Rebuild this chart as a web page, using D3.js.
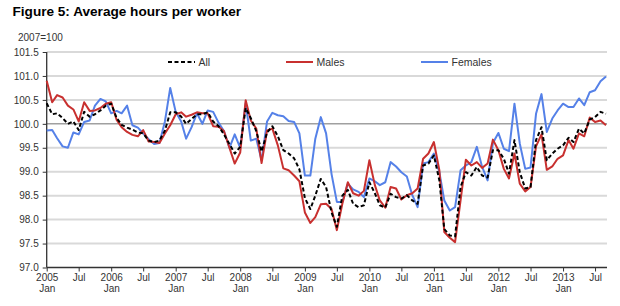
<!DOCTYPE html>
<html>
<head>
<meta charset="utf-8">
<script src="https://cdn.jsdelivr.net/npm/d3@7"></script>
<style>
  body { margin: 0; background: #fff; }
  svg { display: block; font-family: "Liberation Sans", Arial, sans-serif; }
</style>
</head>
<body>
<svg width="620" height="306"></svg>
<script>
// monthly index, Jan 2005 = 100 base 2007
var months = d3.timeMonth.range(new Date(2005, 0, 1), new Date(2013, 9, 1));

var allWorkers = [
  100.43,100.2,100.22,100.12,100.0,100.05,99.87,100.25,100.15,100.2,100.28,100.38,
  100.42,100.12,99.98,99.92,99.88,99.82,99.8,99.65,99.62,99.65,99.86,100.24,
  100.24,100.15,100.0,100.1,100.2,100.2,100.24,100.05,99.95,99.78,99.58,99.38,
  99.52,100.33,100.12,99.85,99.42,99.82,99.95,99.74,99.45,99.38,99.28,99.05,
  98.45,98.22,98.5,98.85,98.68,98.15,97.85,98.5,98.62,98.33,98.26,98.3,
  98.78,98.55,98.3,98.25,98.54,98.47,98.44,98.51,98.4,98.33,99.13,99.17,
  99.34,98.82,97.8,97.67,97.65,98.68,98.99,98.92,99.1,98.92,98.88,99.45,
  99.45,99.27,98.96,99.66,98.99,98.65,98.68,99.66,99.93,99.24,99.38,99.48,
  99.55,99.71,99.62,99.9,99.8,100.09,100.14,100.25,100.21
];
var males = [
  100.9,100.45,100.6,100.55,100.38,100.3,100.05,100.45,100.27,100.28,100.33,100.42,
  100.45,100.08,99.93,99.83,99.77,99.74,99.87,99.63,99.62,99.6,99.8,99.97,
  100.2,100.24,100.15,100.19,100.24,100.22,100.22,99.95,99.94,99.85,99.5,99.17,
  99.4,100.49,100.07,99.9,99.18,99.86,99.9,99.55,99.07,99.03,98.92,98.8,
  98.15,97.93,98.05,98.32,98.33,98.22,97.78,98.33,98.78,98.55,98.5,98.6,
  99.24,98.72,98.4,98.25,98.68,98.65,98.42,98.51,98.55,98.65,99.27,99.38,
  99.62,99.03,97.74,97.62,97.53,98.4,99.25,99.13,99.2,99.08,99.17,99.67,
  99.45,99.06,98.86,99.38,98.75,98.59,98.68,99.53,99.78,99.04,99.11,99.27,
  99.34,99.66,99.48,99.8,99.74,100.13,100.04,100.07,99.97
];
var females = [
  99.86,99.87,99.7,99.53,99.5,99.82,99.78,100.04,100.07,100.38,100.52,100.47,
  100.22,100.27,100.22,100.38,99.97,99.92,99.8,99.68,99.58,99.6,100.05,100.75,
  100.25,100.05,99.69,99.93,100.22,100.0,100.28,100.25,100.02,99.85,99.5,99.78,
  99.5,100.43,99.65,99.69,99.24,100.05,100.23,100.18,100.16,100.06,100.04,99.8,
  98.92,98.92,99.69,100.14,99.8,98.95,98.37,98.37,98.75,98.63,98.58,98.47,
  98.86,98.8,98.72,98.78,99.2,99.11,98.99,98.9,98.51,98.26,99.17,99.2,
  99.38,98.99,98.4,98.19,98.26,99.03,99.13,99.2,99.52,99.1,98.82,99.6,
  99.81,99.48,99.43,100.42,99.59,99.06,99.09,100.21,100.62,99.83,100.11,100.28,
  100.42,100.35,100.35,100.53,100.39,100.66,100.7,100.89,100.99
];
var yTicks = [97.0, 97.5, 98.0, 98.5, 99.0, 99.5, 100.0, 100.5, 101.0, 101.5];

var series = [
  {name: "Females", values: females, color: "#5581e8", dash: null},
  {name: "Males", values: males, color: "#c8302f", dash: null},
  {name: "All", values: allWorkers, color: "#000", dash: "4,2.5"}
];

var svg = d3.select("svg");
var plotL = 46.7, plotR = 606, plotT = 52, plotB = 267.5;

var x = d3.scaleTime()
    .domain([months[0], months[months.length - 1]])
    .range([plotL, plotR]);
var y = d3.scaleLinear()
    .domain([97, 101.5])
    .range([plotB, plotT]);

// title
svg.append("text")
    .attr("x", 12.5).attr("y", 16)
    .attr("font-size", 13.6).attr("font-weight", "bold")
    .attr("fill", "#000")
    .text("Figure 5: Average hours per worker");

svg.append("text")
    .attr("x", 18).attr("y", 41)
    .attr("font-size", 10).attr("fill", "#333")
    .text("2007=100");

// grid
svg.append("g").selectAll("line")
    .data(yTicks.filter(function(d) { return d > 97; }))
    .enter().append("line")
    .attr("x1", plotL).attr("x2", plotR + 1)
    .attr("y1", function(d) { return y(d); })
    .attr("y2", function(d) { return y(d); })
    .attr("stroke", function(d) { return d === 100 ? "#a0a0a0" : "#d9d9d9"; })
    .attr("stroke-width", function(d) { return d === 100 ? 1.5 : 2; });

// y axis
var yAxis = svg.append("g")
    .attr("transform", "translate(" + plotL + ",0)")
    .call(d3.axisLeft(y).tickValues(yTicks).tickFormat(d3.format(".1f")).tickSize(4).tickPadding(4));
yAxis.select(".domain").attr("stroke", "#333").attr("stroke-width", 1.3).attr("d", "M0," + plotT + "V" + plotB);
yAxis.selectAll(".tick line").attr("stroke", "#333");
yAxis.selectAll("text").attr("font-size", 10).attr("fill", "#333")
    .attr("font-family", "Liberation Sans, Arial, sans-serif");

// x axis
var xTicks = months.filter(function(d) { return d.getMonth() % 6 === 0; });
var xAxis = svg.append("g")
    .attr("transform", "translate(0," + plotB + ")")
    .call(d3.axisBottom(x).tickValues(xTicks).tickSize(4).tickFormat(""));
xAxis.select(".domain").attr("stroke", "#333").attr("stroke-width", 1.5)
    .attr("d", "M" + plotL + ",0H" + (plotR + 1));
xAxis.selectAll(".tick line").attr("stroke", "#333");
xAxis.selectAll(".tick").each(function(d) {
  var t = d3.select(this).append("text")
      .attr("fill", "#333").attr("font-size", 10)
      .attr("font-family", "Liberation Sans, Arial, sans-serif")
      .attr("text-anchor", "middle");
  if (d.getMonth() === 0) {
    t.append("tspan").attr("x", 0).attr("y", 13.5).text(d.getFullYear());
    t.append("tspan").attr("x", 0).attr("y", 24.5).text("Jan");
  } else {
    t.append("tspan").attr("x", 0).attr("y", 13.5).text("Jul");
  }
});

// lines
var line = d3.line()
    .x(function(d, i) { return x(months[i]); })
    .y(function(d) { return y(d); });

svg.append("g").selectAll("path")
    .data(series)
    .enter().append("path")
    .attr("fill", "none")
    .attr("stroke", function(d) { return d.color; })
    .attr("stroke-width", 2)
    .attr("stroke-dasharray", function(d) { return d.dash; })
    .attr("stroke-linejoin", "round")
    .attr("d", function(d) { return line(d.values); });

// legend
var legendPos = {"All": 168, "Males": 286, "Females": 421};
var legend = svg.append("g").selectAll("g")
    .data(series)
    .enter().append("g")
    .attr("transform", function(d) { return "translate(" + legendPos[d.name] + ",62)"; });
legend.append("line")
    .attr("x1", 0).attr("x2", 27)
    .attr("stroke", function(d) { return d.color; })
    .attr("stroke-width", 2)
    .attr("stroke-dasharray", function(d) { return d.dash; });
legend.append("text")
    .attr("x", 30.5).attr("y", 4)
    .attr("font-size", 10.5).attr("fill", "#333")
    .text(function(d) { return d.name; });
</script>
</body>
</html>
